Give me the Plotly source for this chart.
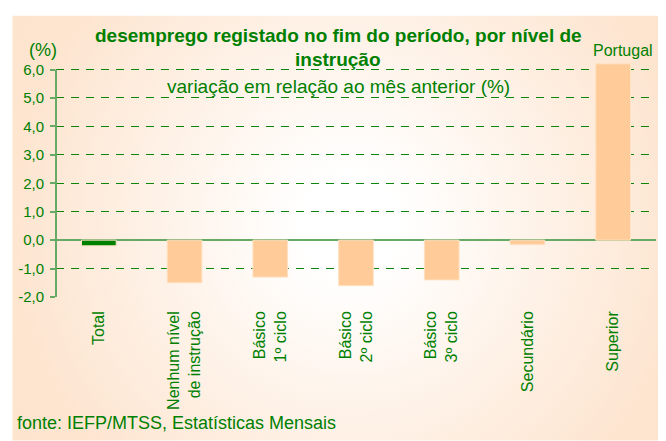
import base64
import plotly.graph_objects as go

categories = ["Total", "Nenhum nível<br>de instrução", "Básico<br>1º ciclo", "Básico<br>2º ciclo",
              "Básico<br>3º ciclo", "Secundário", "Superior"]
values = [-0.2, -1.5, -1.3, -1.6, -1.4, -0.16, 6.2]
bar_colors = ["#008000", "#ffcc99", "#ffcc99", "#ffcc99", "#ffcc99", "#ffcc99", "#ffcc99"]
tick_vals = [-2, -1, 0, 1, 2, 3, 4, 5, 6]
tick_text = ["-2,0", "-1,0", "0,0", "1,0", "2,0", "3,0", "4,0", "5,0", "6,0"]

OFF = 8  # default page body margin
W, H = 666 - OFF, 441 - OFF
L, R, T, B = 52 - OFF, 10, 60.5 - OFF, 144
PW, PH = W - L - R, H - T - B
GREEN = "#008000"
FONT = "Liberation Sans, Arial, sans-serif"


def px(x):  # page pixel x -> paper fraction
    return (x - OFF - L) / PW


def py(y):  # page pixel y -> paper fraction
    return (H - B - (y - OFF)) / PH


BG_TOP = 15 - OFF
svg = f'''<svg xmlns="http://www.w3.org/2000/svg" width="{W}" height="{H-BG_TOP}" viewBox="0 0 {W} {H-BG_TOP}">
<defs><radialGradient id="g" gradientUnits="userSpaceOnUse" cx="340" cy="210" r="400">
<stop offset="0" stop-color="#ffffff"/><stop offset="0.12" stop-color="#ffffff"/>
<stop offset="0.85" stop-color="#fde5d0"/><stop offset="1" stop-color="#fde4ce"/></radialGradient></defs>
<rect x="0" y="0" width="{W}" height="{H-BG_TOP}" fill="url(#g)"/></svg>'''
src = "data:image/svg+xml;base64," + base64.b64encode(svg.encode()).decode()

fig = go.Figure()
fig.add_trace(go.Bar(
    x=categories, y=values,
    marker=dict(color=bar_colors, line=dict(color="rgba(255,225,195,1)", width=1)),
    width=0.405, hoverinfo="skip",
))

fig.update_layout(
    width=W, height=H,
    margin=dict(l=L, r=R, t=T, b=B, pad=0),
    paper_bgcolor="white", plot_bgcolor="rgba(0,0,0,0)",
    showlegend=False,
    font=dict(family=FONT, color=GREEN, size=13),
    images=[dict(source=src, xref="paper", yref="paper", x=-L / PW, y=py(15),
                 sizex=W / PW, sizey=(H - BG_TOP) / PH, sizing="stretch",
                 xanchor="left", yanchor="top", layer="below")],
    xaxis=dict(showgrid=False, showline=False, ticks="", tickangle=-90,
               tickfont=dict(size=16, color=GREEN), ticklabelstandoff=10,
               range=[-0.5, 6.5]),
    yaxis=dict(range=[-2, 6.3], tickvals=tick_vals, ticktext=tick_text,
               showgrid=True, gridcolor="rgba(0,128,0,0.95)", griddash="8px,7px", gridwidth=1,
               zeroline=True, zerolinecolor="#66aa66", zerolinewidth=2,
               showline=False, ticks="outside", ticklen=5, tickcolor="#66aa66", tickwidth=1.5,
               tickfont=dict(size=15, color=GREEN), ticklabelstandoff=3),
    shapes=[dict(type="line", xref="paper", yref="y", x0=0, x1=0, y0=-2, y1=6,
                 line=dict(color="#66aa66", width=2))],
    annotations=[
        dict(text="básico (-1,6%).", xref="paper", yref="paper", x=px(10), y=py(7),
             xanchor="left", yanchor="bottom", showarrow=False,
             font=dict(size=21, color="black", family=FONT)),
        dict(text="<b>desemprego registado no fim do período, por nível de</b>", xref="paper", yref="paper",
             x=px(336), y=py(35), xanchor="center", yanchor="middle", showarrow=False,
             font=dict(size=19, color=GREEN)),
        dict(text="<b>instrução</b>", xref="paper", yref="paper",
             x=px(336), y=py(59), xanchor="center", yanchor="middle", showarrow=False,
             font=dict(size=19, color=GREEN)),
        dict(text="variação em relação ao mês anterior (%)", xref="paper", yref="paper",
             x=px(336), y=py(86), xanchor="center", yanchor="middle", showarrow=False,
             font=dict(size=19, color=GREEN)),
        dict(text="(%)", xref="paper", yref="paper", x=px(39), y=py(49),
             xanchor="center", yanchor="middle", showarrow=False, font=dict(size=18, color=GREEN)),
        dict(text="Portugal", xref="paper", yref="paper", x=px(623), y=py(50),
             xanchor="center", yanchor="middle", showarrow=False, font=dict(size=16, color=GREEN)),
        dict(text="fonte: IEFP/MTSS, Estatísticas Mensais", xref="paper", yref="paper",
             x=px(11), y=py(423), xanchor="left", yanchor="middle", showarrow=False,
             font=dict(size=18, color=GREEN)),
    ],
)

fig.write_html("out.html")
